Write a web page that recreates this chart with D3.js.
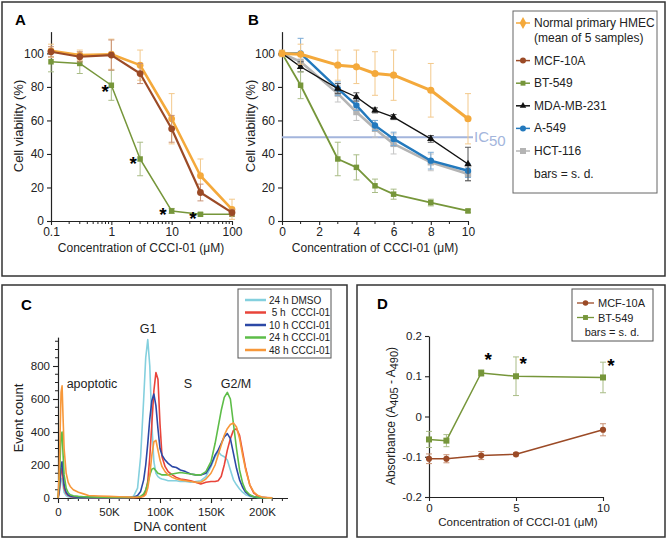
<!DOCTYPE html>
<html><head><meta charset="utf-8">
<script src="https://cdn.jsdelivr.net/npm/d3@7"></script>
<style>body{margin:0;background:#fff}svg{display:block}text{font-family:"Liberation Sans",Arial,Helvetica,sans-serif;fill:#222}</style>
</head><body><svg id="c" width="667" height="540"></svg>
<script>
// ---------------- DATA ----------------
// Panel A (log concentration)
const concA = [0.1, 0.3, 1, 3, 10, 30, 100];
const hmecA = [101.5, 99, 99.5, 93, 61, 27, 7];
const hmecAErr = [4, 3, 9, 9, 15, 10, 6];
const mcfA = [101, 98, 99, 88, 55, 17, 5];
const mcfAErr = [3, 3, 9, 6, 8, 5, 2];
const btA = [95, 94, 81, 37, 6, 4, 4];
const btAErr = [6, 6, 9, 10, 1.5, 1, 1];
const starsAX = [0.79, 2.3, 7.2, 22.6];
const starsAY = [78, 35, 5, 2.4];
const ticksA = [0.1, 1, 10, 100];
const tickLabelsA = ["0.1", "1", "10", "100"];
const minorA = [0.2,0.3,0.4,0.5,0.6,0.7,0.8,0.9,2,3,4,5,6,7,8,9,20,30,40,50,60,70,80,90];
const viabTicks = [0, 20, 40, 60, 80, 100];

// Panel B
const concB = [0, 1, 3, 4, 5, 6, 8, 10];
const hmecB = [100, 99.5, 93, 92, 88, 87, 78, 61];
const hmecBErr = [2, 6, 9, 10, 13, 15, 16, 15];
const btB = [100, 81, 37, 32, 21, 16, 11, 6];
const btBErr = [1, 8, 10, 7.5, 4, 3, 2, 1];
const mdaB = [100, 92, 79, 74, 66, 62, 49, 34];
const mdaBErr = [1, 3, 3, 2.5, 1.5, 1.5, 2, 10];
const a549B = [100, 100, 79, 69, 57, 49, 36, 30];
const a549BErr = [1, 9, 4, 3, 3, 4, 5, 4];
const hctB = [100, 95, 76, 65, 55, 46, 35, 28];
const hctBErr = [1, 4, 5, 5, 5, 6, 5, 4];
const ic50 = 50;
const ticksB = [0, 2, 4, 6, 8, 10];
const minorB = [1, 3, 5, 7, 9];
const legendB = ["Normal primary HMEC", "MCF-10A", "BT-549", "MDA-MB-231", "A-549", "HCT-116"];

// Panel C (DNA content histogram, K units)
const dna = [0,1,2,3,4,5,6,8,10,12,15,20,25,30,40,50,60,70,74,78,81,84,86,88,90,92,94,96,98,100,102,105,108,112,116,120,125,130,135,140,145,150,154,157,160,163,166,169,172,175,178,181,184,188,192,196,200,205,210];
const dmso = [0,20,60,110,120,70,35,15,8,5,3,2,2,2,2,2,2,3,10,60,250,600,850,960,800,450,220,150,130,120,115,110,105,105,105,100,100,95,100,105,130,190,250,280,260,250,230,170,110,80,55,35,20,10,5,3,2,1,1];
const h5 = [0,30,90,160,180,120,60,28,15,10,7,5,4,3,3,2,2,2,2,3,5,15,40,100,250,450,650,760,720,450,250,190,160,140,125,115,110,105,95,85,95,100,100,105,130,200,290,360,410,420,380,280,180,80,30,12,5,2,1];
const h10 = [0,40,110,200,220,150,80,35,18,12,8,5,4,3,3,2,2,3,5,15,40,110,200,330,480,590,630,560,420,300,260,230,210,190,185,170,160,145,140,140,150,200,260,290,330,370,390,360,270,180,110,65,35,15,7,3,2,1,1];
const h24 = [0,80,220,380,400,260,140,60,32,20,14,10,8,7,5,4,3,3,3,5,10,25,50,90,140,175,180,165,150,145,140,140,140,145,150,155,150,145,140,140,160,220,330,430,530,610,640,600,450,300,170,90,45,20,8,4,2,1,1];
const h48 = [0,120,380,640,680,480,300,150,95,70,50,35,25,15,12,10,8,6,5,5,6,10,20,60,140,260,340,350,290,230,190,160,140,125,115,110,105,100,95,95,115,150,200,260,320,380,420,445,455,430,360,260,170,80,35,15,6,2,1];
const legendC = ["24 h DMSO", " 5 h  CCCI-01", "10 h CCCI-01", "24 h CCCI-01", "48 h CCCI-01"];
const ticksCX = [0, 50, 100, 150, 200];
const ticksCY = [0, 200, 400, 600, 800];

// Panel D
const concD = [0, 1, 3, 5, 10];
const btD = [-0.057, -0.06, 0.108, 0.100, 0.097];
const btDErr = [0.02, 0.015, 0.008, 0.048, 0.038];
const mcfD = [-0.105, -0.105, -0.097, -0.094, -0.033];
const mcfDErr = [0.012, 0.01, 0.01, 0.004, 0.015];
const starsDX = [3.4, 5.42, 10.46];
const starsDY = [0.145, 0.136, 0.13];
const ticksDX = [0, 5, 10];
const ticksDY = [-0.2, -0.1, 0, 0.1, 0.2];
const tickLabelsDY = ["-0.2", "-0.1", "0", "0.1", "0.2"];

// ---------------- STYLE ----------------
const C = {
  hmec: "#f4a93b", hmecE: "#f3c98c",
  mcf: "#9b4a26", mcfE: "#c99275",
  bt: "#76963a", btE: "#a9bc86",
  mda: "#111111", mdaE: "#555555",
  a549: "#2379bd", a549E: "#7aaad4",
  hct: "#b4b4b4", hctE: "#c4c4c4",
  ic: "#a3b5dc"
};
const histColors = ["#84d0de", "#e8443a", "#2c48a6", "#5dbd48", "#f7983a"];

const svg = d3.select("#c");

// frames
[[2, 2, 663, 274], [2, 285, 345, 252], [357, 285, 308, 252]].forEach(f => {
  svg.append("rect").attr("x", f[0]).attr("y", f[1]).attr("width", f[2]).attr("height", f[3])
    .attr("fill", "none").attr("stroke", "#333").attr("stroke-width", 1.5);
});

function panelLabel(t, x, y) {
  svg.append("text").attr("x", x).attr("y", y).text(t).attr("font-size", 15).attr("font-weight", "bold").style("fill", "#000");
}
function yTitle(t, x, y, fs) {
  return svg.append("text").attr("transform", `translate(${x},${y}) rotate(-90)`).attr("text-anchor", "middle")
    .attr("font-size", fs || 13).text(t);
}
function xTitle(t, x, y, fs) {
  return svg.append("text").attr("x", x).attr("y", y).attr("text-anchor", "middle").attr("font-size", fs || 12).text(t);
}
function styleAxis(g, fs) {
  g.select(".domain").attr("stroke", "#222").attr("stroke-width", 1.2);
  g.selectAll(".tick line").attr("stroke", "#222").attr("stroke-width", 1.1);
  g.selectAll(".tick text").attr("font-size", fs || 12).style("fill", "#222")
    .attr("font-family", '"Liberation Sans",Arial,sans-serif');
}
function minorX(y0, x, vals, len) {
  const g = svg.append("g");
  vals.forEach(v => g.append("line").attr("x1", x(v)).attr("x2", x(v)).attr("y1", y0).attr("y2", y0 + len)
    .attr("stroke", "#222").attr("stroke-width", 1));
}
function minorY(x0, y, vals, len) {
  const g = svg.append("g");
  vals.forEach(v => g.append("line").attr("x1", x0).attr("x2", x0 - len).attr("y1", y(v)).attr("y2", y(v))
    .attr("stroke", "#222").attr("stroke-width", 1));
}

function drawSeries(x, y, xs, ys, errs, o) {
  const g = svg.append("g");
  if (errs) {
    const eb = g.append("g").attr("stroke", o.errColor).attr("stroke-width", o.errWidth || 1);
    xs.forEach((xv, i) => {
      if (!errs[i]) return;
      const px = x(xv), y1 = y(ys[i] + errs[i]), y2 = y(ys[i] - errs[i]);
      eb.append("line").attr("x1", px).attr("x2", px).attr("y1", y1).attr("y2", y2);
      eb.append("line").attr("x1", px - o.cap).attr("x2", px + o.cap).attr("y1", y1).attr("y2", y1);
      eb.append("line").attr("x1", px - o.cap).attr("x2", px + o.cap).attr("y1", y2).attr("y2", y2);
    });
  }
  g.append("path").datum(xs.map((v, i) => [x(v), y(ys[i])])).attr("d", d3.line())
    .attr("fill", "none").attr("stroke", o.color).attr("stroke-width", o.width).attr("stroke-linejoin", "round");
  g.selectAll(null).data(xs).join("path")
    .attr("transform", (d, i) => `translate(${x(d)},${y(ys[i])})`)
    .attr("d", d3.symbol(o.sym, o.size)).attr("fill", o.color);
}
function stars(x, y, xs, ys) {
  xs.forEach((v, i) => svg.append("text").attr("x", x(v)).attr("y", y(ys[i]) + 8).attr("text-anchor", "middle")
    .attr("font-size", 19).attr("font-weight", "bold").style("fill", "#000").text("*"));
}

// ---------------- PANEL A ----------------
panelLabel("A", 15, 25);
const xA = d3.scaleLog().domain([0.1, 100]).range([51, 232]);
const yA = d3.scaleLinear().domain([0, 113]).range([221, 221 - 113 * 1.676]);
let g = svg.append("g").attr("transform", "translate(51,0)")
  .call(d3.axisLeft(yA).tickValues(viabTicks).tickSize(4).tickSizeOuter(0).tickPadding(3));
styleAxis(g);
g = svg.append("g").attr("transform", "translate(0,221)")
  .call(d3.axisBottom(xA).tickValues(ticksA).tickFormat((d, i) => tickLabelsA[i]).tickSize(4).tickSizeOuter(0).tickPadding(2));
styleAxis(g);
minorX(221, xA, minorA, 3);
yTitle("Cell viability (%)", 23, 126);
xTitle("Concentration of CCCI-01 (\u03bcM)", 141, 252);
drawSeries(xA, yA, concA, btA, btAErr, {color: C.bt, errColor: C.btE, width: 1.5, sym: d3.symbolSquare, size: 30, cap: 3});
drawSeries(xA, yA, concA, hmecA, hmecAErr, {color: C.hmec, errColor: C.hmecE, width: 2.6, sym: d3.symbolCircle, size: 36, cap: 3});
drawSeries(xA, yA, concA, mcfA, mcfAErr, {color: C.mcf, errColor: C.mcfE, width: 2.2, sym: d3.symbolCircle, size: 36, cap: 3});
stars(xA, yA, starsAX, starsAY);

// ---------------- PANEL B ----------------
panelLabel("B", 248, 25);
const xB = d3.scaleLinear().domain([0, 10]).range([282, 468]);
const yB = d3.scaleLinear().domain([0, 113]).range([221, 221 - 113 * 1.676]);
g = svg.append("g").attr("transform", "translate(282,0)")
  .call(d3.axisLeft(yB).tickValues(viabTicks).tickSize(4).tickSizeOuter(0).tickPadding(3));
styleAxis(g);
g = svg.append("g").attr("transform", "translate(0,221)")
  .call(d3.axisBottom(xB).tickValues(ticksB).tickSize(4).tickSizeOuter(0).tickPadding(2));
styleAxis(g);
minorX(221, xB, minorB, 3);
yTitle("Cell viability (%)", 255, 126);
xTitle("Concentration of CCCI-01 (\u03bcM)", 375, 252);
svg.append("line").attr("x1", xB(0)).attr("x2", xB(10) + 5).attr("y1", yB(ic50)).attr("y2", yB(ic50))
  .attr("stroke", C.ic).attr("stroke-width", 2);
const ict = svg.append("text").attr("x", xB(10) + 6).attr("y", yB(ic50) + 5).attr("font-size", 15).style("fill", C.ic);
ict.append("tspan").text("IC");
ict.append("tspan").attr("dy", 4).text("50");
drawSeries(xB, yB, concB, hctB, hctBErr, {color: C.hct, errColor: C.hctE, width: 2.6, sym: d3.symbolSquare, size: 40, cap: 3});
drawSeries(xB, yB, concB, a549B, a549BErr, {color: C.a549, errColor: C.a549E, width: 2.4, sym: d3.symbolCircle, size: 32, cap: 3});
drawSeries(xB, yB, concB, mdaB, mdaBErr, {color: C.mda, errColor: C.mdaE, width: 1.3, sym: d3.symbolTriangle, size: 24, cap: 3});
drawSeries(xB, yB, concB, btB, btBErr, {color: C.bt, errColor: C.btE, width: 1.8, sym: d3.symbolSquare, size: 30, cap: 3});
drawSeries(xB, yB, concB, hmecB, hmecBErr, {color: C.hmec, errColor: C.hmecE, width: 3, sym: d3.symbolCircle, size: 40, cap: 3});

// Legend top right
svg.append("rect").attr("x", 513).attr("y", 11).attr("width", 144).attr("height", 182)
  .attr("fill", "#fff").attr("stroke", "#666").attr("stroke-width", 1);
const legSpecs = [
  {c: C.hmec, s: d3.symbolDiamond, sz: 40},
  {c: C.mcf, s: d3.symbolCircle, sz: 28},
  {c: C.bt, s: d3.symbolSquare, sz: 24},
  {c: C.mda, s: d3.symbolTriangle, sz: 18},
  {c: C.a549, s: d3.symbolCircle, sz: 28},
  {c: C.hct, s: d3.symbolSquare, sz: 36}
];
legendB.forEach((t, i) => {
  const yy = i === 0 ? 23 : 38 + i * 22.6;
  const sp = legSpecs[i];
  svg.append("line").attr("x1", 516).attr("x2", 530).attr("y1", yy).attr("y2", yy).attr("stroke", sp.c).attr("stroke-width", 1.5);
  svg.append("path").attr("transform", `translate(523,${yy})`).attr("d", d3.symbol(sp.s, sp.sz)).attr("fill", sp.c);
  svg.append("text").attr("x", 534).attr("y", yy).attr("dominant-baseline", "central").attr("font-size", 12).text(t);
});
svg.append("text").attr("x", 534).attr("y", 38).attr("dominant-baseline", "central").attr("font-size", 12).text("(mean of 5 samples)");
svg.append("text").attr("x", 534).attr("y", 38 + 6 * 22.6).attr("dominant-baseline", "central").attr("font-size", 12).text("bars = s. d.");

// ---------------- PANEL C ----------------
panelLabel("C", 21, 310);
const xC = d3.scaleLinear().domain([0, 225]).range([58, 58 + 225 * 1.02]);
const yC = d3.scaleLinear().domain([0, 975]).range([498, 498 - 975 * 0.165]);
g = svg.append("g").attr("transform", "translate(58,0)")
  .call(d3.axisLeft(yC).tickValues(ticksCY).tickSize(5).tickSizeOuter(0).tickPadding(3));
styleAxis(g, 11.5);
minorY(58, yC, d3.range(50, 975, 50).filter(v => v % 200 !== 0), 3);
g = svg.append("g").attr("transform", "translate(0,498)")
  .call(d3.axisBottom(xC).tickValues(ticksCX).tickFormat(d => d === 0 ? "0" : d + "K").tickSize(5).tickSizeOuter(0).tickPadding(5));
styleAxis(g, 11.5);
minorX(498, xC, d3.range(10, 225, 10).filter(v => v % 50 !== 0), 3);
yTitle("Event count", 23, 418, 13);
xTitle("DNA content", 170, 531, 13);
[dmso, h5, h10, h24, h48].forEach((arr, k) => {
  svg.append("path").datum(dna.map((v, i) => [xC(v), yC(arr[i])])).attr("d", d3.line())
    .attr("fill", "none").attr("stroke", histColors[k]).attr("stroke-width", 1.6).attr("stroke-linejoin", "round");
});
[["G1", 148, 333], ["apoptotic", 92, 388], ["S", 188, 388], ["G2/M", 236, 388]].forEach(a => {
  svg.append("text").attr("x", a[1]).attr("y", a[2]).attr("text-anchor", "middle").attr("font-size", 12.5).text(a[0]);
});
svg.append("rect").attr("x", 238).attr("y", 289).attr("width", 93).attr("height", 69)
  .attr("fill", "#fff").attr("stroke", "#555").attr("stroke-width", 1);
legendC.forEach((t, i) => {
  const yy = 300 + i * 12.5;
  svg.append("line").attr("x1", 245).attr("x2", 266).attr("y1", yy).attr("y2", yy).attr("stroke", histColors[i]).attr("stroke-width", 2.5);
  svg.append("text").attr("x", 269).attr("y", yy).attr("dominant-baseline", "central").attr("font-size", 10).style("white-space", "pre").attr("xml:space", "preserve").text(t);
});

// ---------------- PANEL D ----------------
panelLabel("D", 377, 309);
const xD = d3.scaleLinear().domain([0, 10]).range([429, 603]);
const yD = d3.scaleLinear().domain([-0.2, 0.2]).range([497, 336]);
g = svg.append("g").attr("transform", "translate(429,0)")
  .call(d3.axisLeft(yD).tickValues(ticksDY).tickFormat((d, i) => tickLabelsDY[i]).tickSize(4).tickSizeOuter(0).tickPadding(3));
styleAxis(g, 11.5);
g = svg.append("g").attr("transform", "translate(0,497)")
  .call(d3.axisBottom(xD).tickValues(ticksDX).tickSize(4).tickSizeOuter(0).tickPadding(3));
styleAxis(g, 11.5);
const at = svg.append("text").attr("transform", "translate(395,416) rotate(-90)").attr("text-anchor", "middle").attr("font-size", 12);
at.append("tspan").text("Absorbance (A");
at.append("tspan").attr("dy", 3).attr("font-size", 11).text("405");
at.append("tspan").attr("dy", -3).text(" - A");
at.append("tspan").attr("dy", 3).attr("font-size", 11).text("490");
at.append("tspan").attr("dy", -3).text(")");
xTitle("Concentration of CCCI-01 (\u03bcM)", 518, 526, 11.5);
drawSeries(xD, yD, concD, mcfD, mcfDErr, {color: C.mcf, errColor: C.mcfE, width: 1.5, sym: d3.symbolCircle, size: 30, cap: 3});
drawSeries(xD, yD, concD, btD, btDErr, {color: C.bt, errColor: C.btE, width: 1.5, sym: d3.symbolSquare, size: 36, cap: 3});
stars(xD, yD, starsDX, starsDY);
svg.append("rect").attr("x", 572).attr("y", 289).attr("width", 81).attr("height", 52)
  .attr("fill", "#fff").attr("stroke", "#555").attr("stroke-width", 1);
[["MCF-10A", C.mcf, d3.symbolCircle, 24], ["BT-549", C.bt, d3.symbolSquare, 24]].forEach((e, i) => {
  const yy = 303 + i * 14.5;
  svg.append("line").attr("x1", 577).attr("x2", 594).attr("y1", yy).attr("y2", yy).attr("stroke", e[1]).attr("stroke-width", 1.3);
  svg.append("path").attr("transform", `translate(585.5,${yy})`).attr("d", d3.symbol(e[2], e[3])).attr("fill", e[1]);
  svg.append("text").attr("x", 598).attr("y", yy).attr("dominant-baseline", "central").attr("font-size", 11).text(e[0]);
});
svg.append("text").attr("x", 612).attr("y", 332).attr("text-anchor", "middle").attr("dominant-baseline", "central").attr("font-size", 11).text("bars = s. d.");
</script></body></html>
